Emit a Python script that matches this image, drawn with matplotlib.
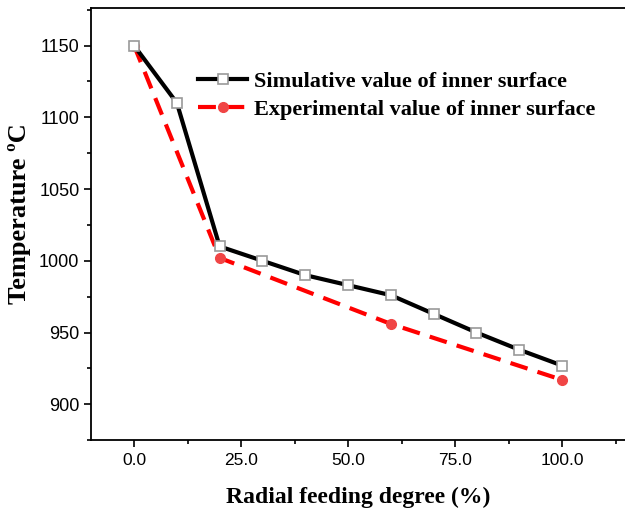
import matplotlib.pyplot as plt
from matplotlib.ticker import MultipleLocator, FormatStrFormatter

x_sim = [0, 10, 20, 30, 40, 50, 60, 70, 80, 90, 100]
t_sim = [1150, 1110, 1010, 1000, 990, 983, 976, 963, 950, 938, 927]
x_exp = [0, 20, 60, 100]
t_exp = [1150, 1002, 956, 917]

fig = plt.figure(figsize=(6.25, 5.13), dpi=100)
ax = fig.add_axes([0.146, 0.142, 0.854, 0.842])

ax.plot(x_sim, t_sim, color='black', linewidth=3, marker='s', markersize=7,
        markerfacecolor='white', markeredgecolor='#999999', markeredgewidth=1.2,
        label='Simulative value of inner surface', zorder=3)
ax.plot(x_exp, t_exp, color='red', linewidth=3, linestyle=(0, (4.3, 2.5)),
        marker='o', markersize=7, markerfacecolor='#f04545', markeredgecolor='#f04545',
        label='Experimental value of inner surface', zorder=2)

ax.set_xlim(-10, 114.7)
ax.set_ylim(875, 1176)
ax.xaxis.set_major_locator(MultipleLocator(25))
ax.xaxis.set_minor_locator(MultipleLocator(12.5))
ax.xaxis.set_major_formatter(FormatStrFormatter('%.1f'))
ax.yaxis.set_major_locator(MultipleLocator(50))
ax.yaxis.set_minor_locator(MultipleLocator(25))
ax.tick_params(which='major', direction='out', length=5, width=1.2, labelsize=13)
ax.tick_params(axis='x', which='major', labelsize=12.5, pad=4.5)
ax.tick_params(which='minor', direction='out', length=3, width=1.2)
for lab in ax.get_xticklabels() + ax.get_yticklabels():
    lab.set_fontfamily('Liberation Sans')
for s in ax.spines.values():
    s.set_linewidth(1.3)
ax.spines['right'].set_visible(False)

ax.set_xlabel('Radial feeding degree (%)', fontfamily='Liberation Serif',
              fontweight='bold', fontsize=17, labelpad=13)
ax.set_ylabel('Temperature \u00baC', fontfamily='Liberation Serif',
              fontweight='bold', fontsize=19)
ax.yaxis.set_label_coords(-0.112, 0.525)

ax.legend(loc='upper left', bbox_to_anchor=(0.18, 0.88), frameon=False,
          prop={'family': 'Liberation Serif', 'weight': 'bold', 'size': 16},
          handlelength=2.2, handletextpad=0.3, labelspacing=0.35, borderpad=0)

plt.savefig('out.png', dpi=100)
